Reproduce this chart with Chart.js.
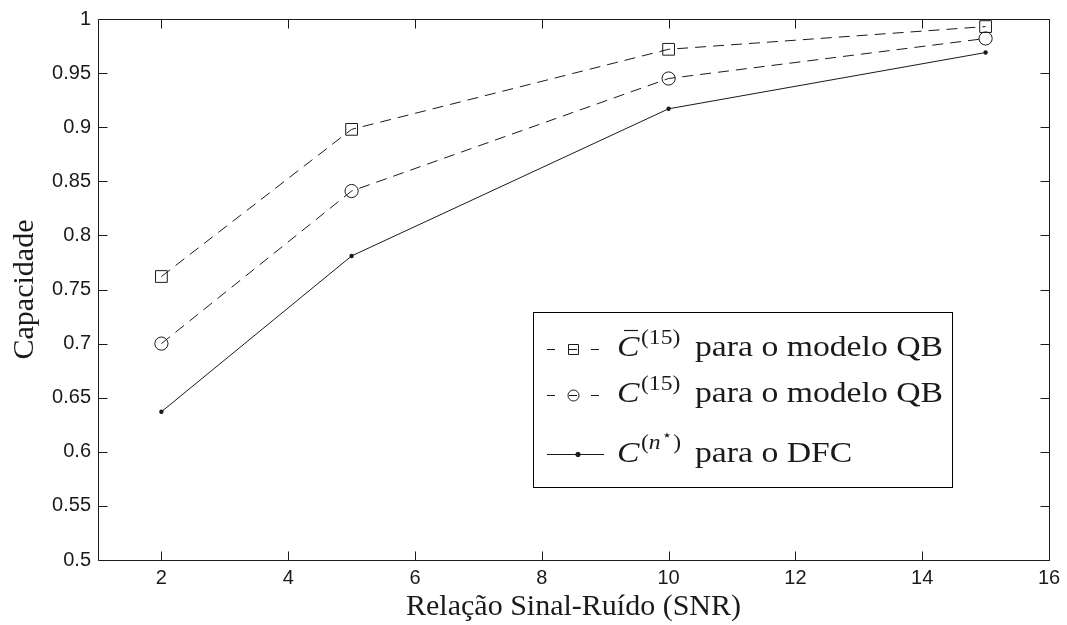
<!DOCTYPE html>
<html>
<head>
<meta charset="utf-8">
<script src="https://cdn.jsdelivr.net/npm/chart.js@4/dist/chart.umd.min.js"></script>
<style>
html,body{margin:0;padding:0;background:#fff;}
#wrap{width:1067px;height:625px;}
</style>
</head>
<body>
<div id="wrap"><canvas id="c" width="1067" height="625"></canvas></div>
<script>
// ---- data ----
const snr = [2, 5, 10, 15];
const cBar15 = [0.762, 0.898, 0.972, 0.993];
const c15 = [0.700, 0.841, 0.945, 0.982];
const cDfc = [0.637, 0.781, 0.917, 0.969];
const xTicks = [2, 4, 6, 8, 10, 12, 14, 16];
const xTickLabels = ['2', '4', '6', '8', '10', '12', '14', '16'];
const yTicks = [0.5, 0.55, 0.6, 0.65, 0.7, 0.75, 0.8, 0.85, 0.9, 0.95, 1];
const yTickLabels = ['0.5', '0.55', '0.6', '0.65', '0.7', '0.75', '0.8', '0.85', '0.9', '0.95', '1'];
const seriesNames = ['C̄(15) para o modelo QB', 'C(15) para o modelo QB', 'C(n⋆) para o DFC'];
const xTitle = 'Relação Sinal-Ruído (SNR)';
const yTitle = 'Capacidade';

const INK = '#1a1a1a';
const tickFont = {family: '"Liberation Sans", Arial, sans-serif', size: 20};
const titleFont = {family: '"Liberation Serif", serif', size: 30};

const pts = arr => snr.map((x, i) => ({x: x, y: arr[i]}));

const frameTicks = {
  id: 'frameTicks',
  afterDraw(chart) {
    const ctx = chart.ctx, a = chart.chartArea;
    const xs = chart.scales.x, ys = chart.scales.y;
    ctx.save();
    ctx.strokeStyle = INK;
    ctx.lineWidth = 1;
    ctx.beginPath();
    const L = Math.round(a.left) + 0.5, R = Math.round(a.right) + 0.5;
    const T = Math.round(a.top) + 0.5, B = Math.round(a.bottom) + 0.5;
    ctx.rect(L, T, R - L, B - T);
    const tl = 9;
    xTicks.forEach(v => {
      const px = Math.round(xs.getPixelForValue(v)) + 0.5;
      ctx.moveTo(px, B); ctx.lineTo(px, B - tl);
      ctx.moveTo(px, T); ctx.lineTo(px, T + tl);
    });
    yTicks.forEach(v => {
      const py = Math.round(ys.getPixelForValue(v)) + 0.5;
      ctx.moveTo(L, py); ctx.lineTo(L + tl, py);
      ctx.moveTo(R, py); ctx.lineTo(R - tl, py);
    });
    ctx.stroke();
    ctx.restore();
    drawLegend(ctx);
  }
};

function drawLegend(ctx) {
  ctx.save();
  const bx = 533, by = 312, bw = 419, bh = 175;
  ctx.fillStyle = '#fff';
  ctx.fillRect(bx, by, bw, bh);
  ctx.strokeStyle = '#000';
  ctx.lineWidth = 1;
  ctx.strokeRect(bx + 0.5, by + 0.5, bw, bh);

  const mainFont = '30px "Liberation Serif", serif';
  const itFont = 'italic 30px "Liberation Serif", serif';
  const supFont = '21px "Liberation Serif", serif';
  const supIt = 'italic 21px "Liberation Serif", serif';
  ctx.font = mainFont;
  const sx = 248 / ctx.measureText('para o modelo QB').width;
  ctx.fillStyle = INK;
  ctx.strokeStyle = INK;
  function txt(s, x, y, f) {
    ctx.save(); ctx.font = f; ctx.translate(x, y); ctx.scale(sx, 1);
    ctx.fillText(s, 0, 0);
    const w = ctx.measureText(s).width * sx;
    ctx.restore();
    return w;
  }
  const rows = [356, 402, 462];
  const lineY = [349, 395, 454];
  for (let r = 0; r < 3; r++) {
    ctx.save();
    ctx.lineWidth = 1;
    ctx.beginPath();
    if (r < 2) ctx.setLineDash([8, 14]); else ctx.setLineDash([]);
    ctx.moveTo(547, lineY[r] + 0.5); ctx.lineTo(604, lineY[r] + 0.5);
    ctx.stroke();
    ctx.setLineDash([]);
    ctx.beginPath();
    if (r === 0) ctx.rect(568.5, lineY[r] - 4.5, 10, 10);
    else if (r === 1) ctx.arc(573.5, lineY[r] + 0.5, 5.5, 0, Math.PI * 2);
    else { ctx.arc(578, lineY[r] + 0.5, 2.2, 0, Math.PI * 2); ctx.fill(); }
    ctx.stroke();
    ctx.restore();
  }
  // row 1: C-bar^(15)
  txt('C', 617, rows[0], itFont);
  ctx.beginPath(); ctx.lineWidth = 1.2;
  ctx.moveTo(624, rows[0] - 25.5); ctx.lineTo(638, rows[0] - 25.5); ctx.stroke();
  txt('(15)', 641, rows[0] - 12, supFont);
  txt('para o modelo QB', 695, rows[0], mainFont);
  // row 2
  txt('C', 617, rows[1], itFont);
  txt('(15)', 641, rows[1] - 12, supFont);
  txt('para o modelo QB', 695, rows[1], mainFont);
  // row 3
  txt('C', 617, rows[2], itFont);
  let x = 641;
  x += txt('(', x, rows[2] - 13, supFont);
  x += txt('n', x, rows[2] - 13, supIt);
  x += 1;
  x += txt('\u22C6', x, rows[2] - 22, '15px "DejaVu Sans", sans-serif');
  x += 1;
  txt(')', x, rows[2] - 13, supFont);
  txt('para o DFC', 695, rows[2], mainFont);
  ctx.restore();
}

new Chart(document.getElementById('c'), {
  type: 'line',
  data: {
    datasets: [
      {label: seriesNames[0], data: pts(cBar15), borderColor: INK, borderWidth: 1, borderDash: [11, 7],
       pointStyle: 'rect', pointRadius: 8.3, pointBorderColor: INK, pointBackgroundColor: 'rgba(0,0,0,0)', pointBorderWidth: 1, tension: 0},
      {label: seriesNames[1], data: pts(c15), borderColor: INK, borderWidth: 1, borderDash: [11, 7],
       pointStyle: 'circle', pointRadius: 6.6, pointBorderColor: INK, pointBackgroundColor: 'rgba(0,0,0,0)', pointBorderWidth: 1, tension: 0},
      {label: seriesNames[2], data: pts(cDfc), borderColor: INK, borderWidth: 1,
       pointStyle: 'circle', pointRadius: 2.2, pointBorderColor: INK, pointBackgroundColor: INK, pointBorderWidth: 0, tension: 0}
    ]
  },
  options: {
    responsive: false,
    animation: false,
    events: [],
    layout: {padding: {left: 0, right: 18, top: 17, bottom: 0}},
    plugins: {legend: {display: false}, tooltip: {enabled: false}},
    scales: {
      x: {
        type: 'linear', min: 1, max: 16,
        afterBuildTicks: s => { s.ticks = xTicks.map(v => ({value: v})); },
        afterFit: s => { s.height = 65; },
        grid: {display: false, drawTicks: false},
        border: {display: false},
        ticks: {callback: (v, i) => xTickLabels[i], font: tickFont, color: INK, padding: 6, maxRotation: 0, autoSkip: false},
        title: {display: true, text: xTitle, font: titleFont, color: INK, padding: 0}
      },
      y: {
        type: 'linear', min: 0.5, max: 1,
        afterBuildTicks: s => { s.ticks = yTicks.map(v => ({value: v})); },
        afterFit: s => { s.width = 98; },
        grid: {display: false, drawTicks: false},
        border: {display: false},
        ticks: {callback: (v, i) => yTickLabels[i], font: tickFont, color: INK, padding: 7, autoSkip: false},
        title: {display: true, text: yTitle, font: titleFont, color: INK, padding: {top: 7, bottom: 0}}
      }
    }
  },
  plugins: [frameTicks]
});
</script>
</body>
</html>
